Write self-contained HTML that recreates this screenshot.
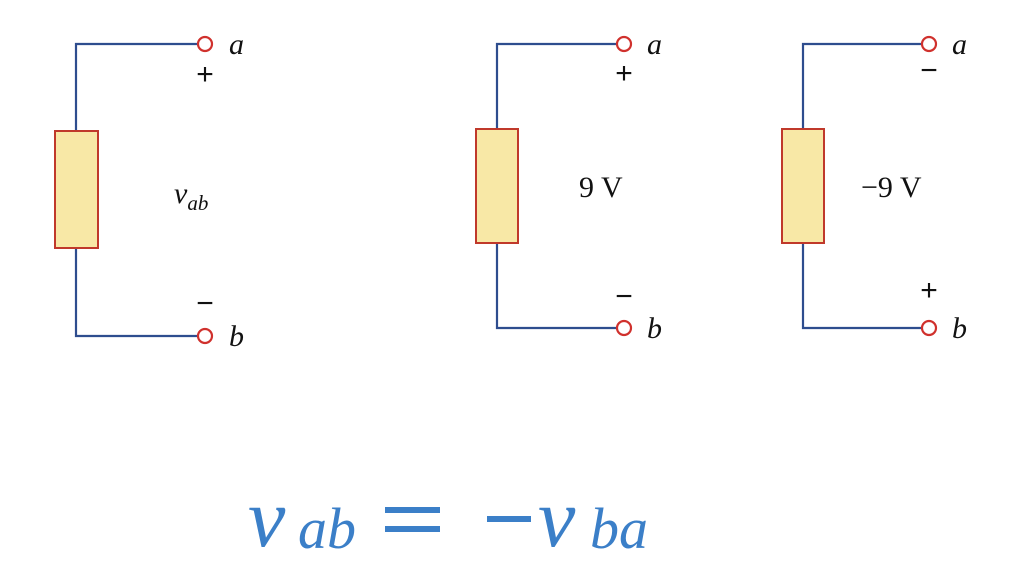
<!DOCTYPE html>
<html><head><meta charset="utf-8"><style>
html,body{margin:0;padding:0;background:#fff;width:1020px;height:587px;overflow:hidden}
svg{display:block}
</style></head><body>
<svg width="1020" height="587" viewBox="0 0 1020 587">
<g fill="none" stroke="#2e4d8e" stroke-width="2.2">
  <polyline points="198,44 76,44 76,131"/>
  <polyline points="76,248 76,336 198,336"/>
  <rect x="55" y="131" width="43" height="117" fill="#f8e8a6" stroke="#c0392b" stroke-width="2"/>
  <circle cx="205" cy="44" r="7" stroke="#d0312d" fill="#fff"/>
  <circle cx="205" cy="336" r="7" stroke="#d0312d" fill="#fff"/>
</g>
<g fill="none" stroke="#2e4d8e" stroke-width="2.2">
  <polyline points="617,44 497,44 497,129"/>
  <polyline points="497,243 497,328 617,328"/>
  <rect x="476" y="129" width="42" height="114" fill="#f8e8a6" stroke="#c0392b" stroke-width="2"/>
  <circle cx="624" cy="44" r="7" stroke="#d0312d" fill="#fff"/>
  <circle cx="624" cy="328" r="7" stroke="#d0312d" fill="#fff"/>
</g>
<g fill="none" stroke="#2e4d8e" stroke-width="2.2">
  <polyline points="922,44 803,44 803,129"/>
  <polyline points="803,243 803,328 922,328"/>
  <rect x="782" y="129" width="42" height="114" fill="#f8e8a6" stroke="#c0392b" stroke-width="2"/>
  <circle cx="929" cy="44" r="7" stroke="#d0312d" fill="#fff"/>
  <circle cx="929" cy="328" r="7" stroke="#d0312d" fill="#fff"/>
</g>
<g font-family="Liberation Serif, serif" fill="#111" font-size="30">
  <text x="229" y="54" font-style="italic">a</text>
  <text x="229" y="346" font-style="italic">b</text>
  <text x="205" y="84" text-anchor="middle" font-family="Liberation Sans, sans-serif">+</text>
  <text x="205" y="313" text-anchor="middle" font-family="Liberation Sans, sans-serif">−</text>
  <text x="174" y="203" font-style="italic">v<tspan font-size="21" dy="7">ab</tspan></text>
  <text x="647" y="54" font-style="italic">a</text>
  <text x="647" y="338" font-style="italic">b</text>
  <text x="624" y="83" text-anchor="middle" font-family="Liberation Sans, sans-serif">+</text>
  <text x="624" y="306" text-anchor="middle" font-family="Liberation Sans, sans-serif">−</text>
  <text x="579" y="197">9 V</text>
  <text x="952" y="54" font-style="italic">a</text>
  <text x="952" y="338" font-style="italic">b</text>
  <text x="929" y="80" text-anchor="middle" font-family="Liberation Sans, sans-serif">−</text>
  <text x="929" y="300" text-anchor="middle" font-family="Liberation Sans, sans-serif">+</text>
  <text x="861" y="197">−9 V</text>
</g>
<g font-family="Liberation Serif, serif" font-style="italic" fill="#3b7fc8">
  <text x="248" y="546" font-size="84">v</text>
  <text x="298" y="548" font-size="58">ab</text>
  <rect x="385" y="507" width="55" height="6"/>
  <rect x="385" y="526" width="55" height="6"/>
  <rect x="487" y="516" width="44" height="6"/>
  <text x="538" y="546" font-size="84">v</text>
  <text x="590" y="548" font-size="58">ba</text>
</g>
</svg>
</body></html>
